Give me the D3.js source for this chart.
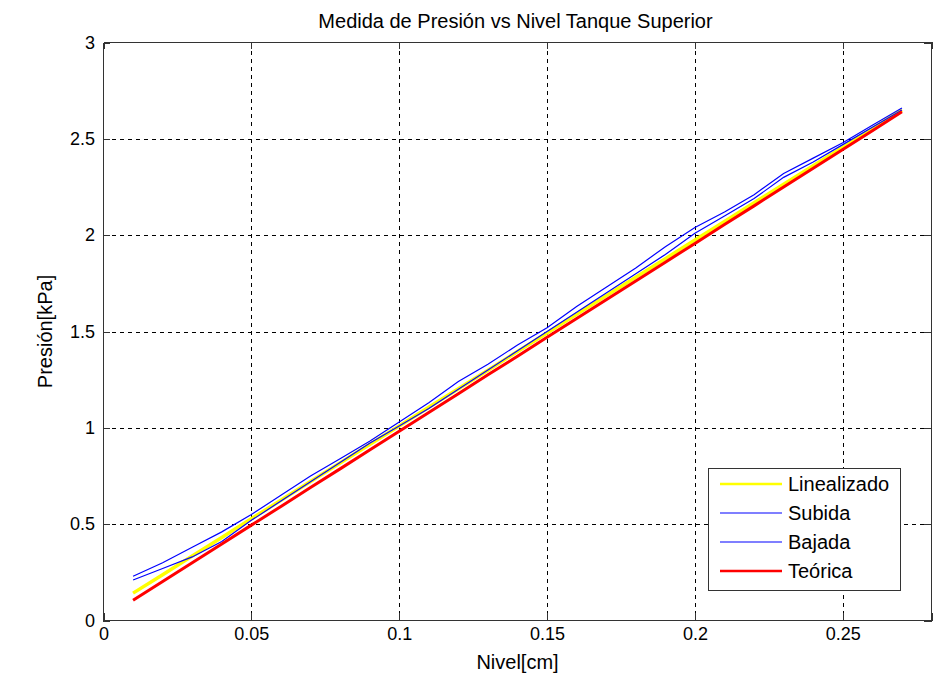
<!DOCTYPE html>
<html>
<head>
<meta charset="UTF-8">
<title>Medida de Presión vs Nivel Tanque Superior</title>
<script src="https://d3js.org/d3.v7.min.js"></script>
<style>
    body { margin: 0; background: #fff; }
    text { font-family: "Liberation Sans", Arial, sans-serif; fill: #000; }
    .grid-line { stroke: #000; stroke-dasharray: 4, 4; stroke-width: 1; shape-rendering: crispEdges; }
    .axis path, .axis line { shape-rendering: crispEdges; }
</style>
</head>
<body>
<script>
    // nivel (eje x) y presiones medidas en kPa
    var nivel = [0.01, 0.02, 0.03, 0.04, 0.05, 0.06, 0.07, 0.08, 0.09, 0.10, 0.11, 0.12, 0.13, 0.14,
                 0.15, 0.16, 0.17, 0.18, 0.19, 0.20, 0.21, 0.22, 0.23, 0.24, 0.25, 0.26, 0.27];
    var linealizado = [0.142, 0.238, 0.335, 0.431, 0.528, 0.624, 0.721, 0.817, 0.914, 1.010, 1.107, 1.203, 1.299, 1.396,
                       1.492, 1.589, 1.685, 1.782, 1.878, 1.975, 2.071, 2.168, 2.264, 2.361, 2.457, 2.553, 2.650];
    var subida = [0.23, 0.30, 0.38, 0.46, 0.55, 0.65, 0.75, 0.84, 0.93, 1.03, 1.13, 1.24, 1.33, 1.43,
                  1.52, 1.63, 1.73, 1.83, 1.94, 2.04, 2.12, 2.21, 2.32, 2.40, 2.48, 2.57, 2.66];
    var bajada = [0.21, 0.27, 0.33, 0.41, 0.52, 0.62, 0.72, 0.82, 0.92, 1.01, 1.10, 1.20, 1.30, 1.40,
                  1.50, 1.60, 1.70, 1.80, 1.90, 2.01, 2.10, 2.19, 2.30, 2.38, 2.47, 2.56, 2.65];
    var teorica = [0.105, 0.202, 0.300, 0.397, 0.495, 0.592, 0.690, 0.787, 0.885, 0.982, 1.080, 1.177, 1.275, 1.372,
                   1.470, 1.567, 1.665, 1.762, 1.860, 1.957, 2.055, 2.152, 2.250, 2.347, 2.445, 2.542, 2.640];
    var xTicks = [0, 0.05, 0.1, 0.15, 0.2, 0.25];
    var yTicks = [0, 0.5, 1, 1.5, 2, 2.5, 3];

    var series = [
        { name: "Linealizado", values: linealizado, color: "#ffff00", width: 3.5 },
        { name: "Subida", values: subida, color: "#0000ff", width: 1.2 },
        { name: "Bajada", values: bajada, color: "#0000ff", width: 1.2 },
        { name: "Teórica", values: teorica, color: "#ff0000", width: 3 }
    ];

    var width = 951, height = 679;
    // "top" is reserved on window, so use other names
    var mLeft = 103.5, mRight = 931.5, mTop = 42.5, mBottom = 620.5;

    var svg = d3.select("body").append("svg")
        .attr("width", width)
        .attr("height", height);

    var x = d3.scaleLinear().domain([0, 0.28]).range([mLeft, mRight]);
    var y = d3.scaleLinear().domain([0, 3]).range([mBottom, mTop]);

    // grid
    var grid = svg.append("g");
    grid.selectAll(".gx").data(xTicks.slice(1)).enter().append("line")
        .attr("class", "grid-line")
        .attr("x1", function (d) { return Math.round(x(d)) + 0.5; })
        .attr("x2", function (d) { return Math.round(x(d)) + 0.5; })
        .attr("y1", mTop).attr("y2", mBottom);
    grid.selectAll(".gy").data(yTicks.slice(1, -1)).enter().append("line")
        .attr("class", "grid-line")
        .attr("x1", mLeft).attr("x2", mRight)
        .attr("y1", function (d) { return Math.round(y(d)) + 0.5; })
        .attr("y2", function (d) { return Math.round(y(d)) + 0.5; });

    // series
    var line = d3.line()
        .x(function (d, i) { return x(nivel[i]); })
        .y(function (d) { return y(d); });

    svg.append("g").selectAll("path").data(series).enter().append("path")
        .attr("fill", "none")
        .attr("stroke", function (d) { return d.color; })
        .attr("stroke-width", function (d) { return d.width; })
        .attr("d", function (d) { return line(d.values); });

    // axes, ticks inward (matlab style)
    var tickLen = 7;
    var axisColor = "#333";
    var xAxisB = d3.axisBottom(x).tickValues(xTicks).tickSize(-tickLen).tickPadding(7)
        .tickFormat(function (d) { return d; });
    var xAxisT = d3.axisTop(x).tickValues(xTicks).tickSize(-tickLen).tickFormat("");
    var yAxisL = d3.axisLeft(y).tickValues(yTicks).tickSize(-tickLen).tickPadding(8)
        .tickFormat(function (d) { return d; });
    var yAxisR = d3.axisRight(y).tickValues(yTicks).tickSize(-tickLen).tickFormat("");

    function styleAxis(g) {
        g.attr("class", "axis");
        g.selectAll("path").attr("stroke", axisColor);
        g.selectAll("line").attr("stroke", axisColor);
        g.selectAll("text").attr("font-size", 18).attr("fill", "#000")
            .attr("font-family", "Liberation Sans, Arial, sans-serif");
    }

    svg.append("g").attr("transform", "translate(0," + (mBottom - 0.5) + ")").call(xAxisB).call(styleAxis);
    svg.append("g").attr("transform", "translate(0," + (mTop - 0.5) + ")").call(xAxisT).call(styleAxis);
    svg.append("g").attr("transform", "translate(" + (mLeft - 0.5) + ",0)").call(yAxisL).call(styleAxis);
    svg.append("g").attr("transform", "translate(" + (mRight - 0.5) + ",0)").call(yAxisR).call(styleAxis);

    // title and labels
    svg.append("text")
        .attr("x", (mLeft + mRight) / 2 - 2).attr("y", 28)
        .attr("text-anchor", "middle").attr("font-size", 20)
        .text("Medida de Presión vs Nivel Tanque Superior");

    svg.append("text")
        .attr("x", (mLeft + mRight) / 2).attr("y", 669)
        .attr("text-anchor", "middle").attr("font-size", 20)
        .text("Nivel[cm]");

    svg.append("text")
        .attr("transform", "translate(52," + ((mTop + mBottom) / 2) + ") rotate(-90)")
        .attr("text-anchor", "middle").attr("font-size", 20)
        .text("Presión[kPa]");

    // legend
    var lg = svg.append("g").attr("transform", "translate(708,468)");
    lg.append("rect")
        .attr("x", 0.5).attr("y", 0.5)
        .attr("width", 192).attr("height", 122)
        .attr("fill", "#fff").attr("stroke", axisColor).attr("stroke-width", 1)
        .attr("shape-rendering", "crispEdges");
    var item = lg.selectAll(".item").data(series).enter().append("g")
        .attr("transform", function (d, i) { return "translate(0," + (16 + i * 29) + ")"; });
    item.append("line")
        .attr("x1", 12).attr("x2", 74)
        .attr("stroke", function (d) { return d.color; })
        .attr("stroke-width", function (d) { return d.width > 2 ? 2.5 : 1.2; });
    item.append("text")
        .attr("x", 80).attr("dy", "0.35em").attr("font-size", 20)
        .text(function (d) { return d.name; });
</script>
</body>
</html>
